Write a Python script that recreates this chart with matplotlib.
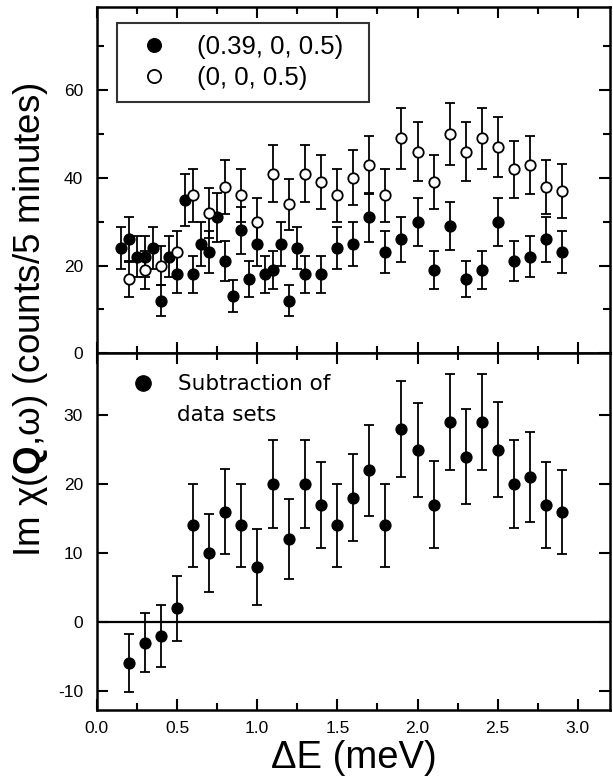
import matplotlib
matplotlib.use("Agg")
import matplotlib.pyplot as plt
from matplotlib.lines import Line2D
from matplotlib.ticker import MultipleLocator

plt.rcParams['font.family'] = ['Liberation Sans', 'DejaVu Sans']
plt.rcParams['mathtext.fontset'] = 'custom'
plt.rcParams['mathtext.rm'] = 'Liberation Sans'
plt.rcParams['mathtext.bf'] = 'Liberation Sans:bold'
plt.rcParams['axes.unicode_minus'] = False

# top panel: (0.39, 0, 0.5) filled
e_filled = [0.15, 0.2, 0.25, 0.3, 0.35, 0.4, 0.45, 0.5, 0.55, 0.6, 0.65, 0.7,
            0.75, 0.8, 0.85, 0.9, 0.95, 1.0, 1.05, 1.1, 1.15, 1.2, 1.25, 1.3,
            1.4, 1.5, 1.6, 1.7, 1.8, 1.9, 2.0, 2.1, 2.2, 2.3, 2.4, 2.5, 2.6,
            2.7, 2.8, 2.9]
c_filled = [24, 26, 22, 22, 24, 12, 22, 18, 35, 18, 25, 23, 31, 21, 13, 28, 17,
            25, 18, 19, 25, 12, 24, 18, 18, 24, 25, 31, 23, 26, 30, 19, 29, 17,
            19, 30, 21, 22, 26, 23]
err_filled = [4.9, 5.1, 4.7, 4.7, 4.9, 3.5, 4.7, 4.2, 5.9, 4.2, 5.0, 4.8, 5.6,
              4.6, 3.6, 5.3, 4.1, 5.0, 4.2, 4.4, 5.0, 3.5, 4.9, 4.2, 4.2, 4.9,
              5.0, 5.6, 4.8, 5.1, 5.5, 4.4, 5.4, 4.1, 4.4, 5.5, 4.6, 4.7, 5.1,
              4.8]

# top panel: (0, 0, 0.5) open
e_open = [0.2, 0.3, 0.4, 0.5, 0.6, 0.7, 0.8, 0.9, 1.0, 1.1, 1.2, 1.3, 1.4, 1.5,
          1.6, 1.7, 1.8, 1.9, 2.0, 2.1, 2.2, 2.3, 2.4, 2.5, 2.6, 2.7, 2.8, 2.9]
c_open = [17, 19, 20, 23, 36, 32, 38, 36, 30, 41, 34, 41, 39, 36, 40, 43, 36,
          49, 46, 39, 50, 46, 49, 47, 42, 43, 38, 37]
err_open = [4.1, 4.4, 4.5, 4.8, 6.0, 5.7, 6.2, 6.0, 5.5, 6.4, 5.8, 6.4, 6.2,
            6.0, 6.3, 6.6, 6.0, 7.0, 6.8, 6.2, 7.1, 6.8, 7.0, 6.9, 6.5, 6.6,
            6.2, 6.1]

# bottom panel: subtraction
e_sub = e_open
c_sub = [-6, -3, -2, 2, 14, 10, 16, 14, 8, 20, 12, 20, 17, 14, 18, 22, 14, 28,
         25, 17, 29, 24, 29, 25, 20, 21, 17, 16]
err_sub = [4.2, 4.3, 4.5, 4.7, 6.0, 5.7, 6.2, 6.0, 5.5, 6.4, 5.8, 6.4, 6.2, 6.0,
           6.3, 6.6, 6.0, 7.0, 6.8, 6.3, 7.0, 6.9, 7.0, 6.9, 6.4, 6.5, 6.2, 6.1]

fig = plt.figure(figsize=(6.13, 7.83), dpi=100)
ax1 = fig.add_axes([0.158, 0.549, 0.837, 0.442])
ax2 = fig.add_axes([0.158, 0.093, 0.837, 0.456])

eb = dict(ecolor='black', elinewidth=1.3, capsize=3.8, capthick=1.3,
          linestyle='none', marker='o', markersize=7.5, markeredgecolor='black',
          markeredgewidth=1.3)

ax1.errorbar(e_filled, c_filled, yerr=err_filled, markerfacecolor='black', **eb)
ax1.errorbar(e_open, c_open, yerr=err_open, markerfacecolor='white', **eb)
ax2.errorbar(e_sub, c_sub, yerr=err_sub, markerfacecolor='black', **eb)
ax2.axhline(0, color='black', lw=1.6)

ax1.set_xlim(0, 3.2)
ax2.set_xlim(0, 3.2)
ax1.set_ylim(0, 79)
ax2.set_ylim(-12.8, 39)

for ax in (ax1, ax2):
    ax.xaxis.set_major_locator(MultipleLocator(0.5))
    ax.xaxis.set_minor_locator(MultipleLocator(0.25))
    ax.tick_params(which='both', direction='in', top=True, right=True,
                   width=1.5, labelsize=12.5)
    ax.tick_params(which='major', length=8)
    ax.tick_params(which='minor', length=5)
    ax.tick_params(axis='y', pad=10)
    ax.tick_params(axis='x', pad=8)
    for s in ax.spines.values():
        s.set_linewidth(1.8)

ax1.yaxis.set_major_locator(MultipleLocator(20))
ax1.yaxis.set_minor_locator(MultipleLocator(10))
ax1.tick_params(labelbottom=False)
ax2.yaxis.set_major_locator(MultipleLocator(10))
ax2.xaxis.set_major_formatter(plt.FormatStrFormatter('%.1f'))

h_filled = Line2D([], [], ls='none', marker='o', ms=9.5, mfc='black',
                  mec='black', mew=1.3)
h_open = Line2D([], [], ls='none', marker='o', ms=9.5, mfc='white',
                mec='black', mew=1.3)
leg = ax1.legend([h_filled, h_open], ['(0.39, 0, 0.5)  ', '(0, 0, 0.5)'],
                 loc='upper left', bbox_to_anchor=(0.039, 0.954), fontsize=18.5,
                 frameon=True, fancybox=False, edgecolor='black',
                 handletextpad=0.65, borderpad=0.45, labelspacing=0.3,
                 handlelength=2.0, borderaxespad=0)
leg.get_frame().set_linewidth(1.5)

h_sub = Line2D([], [], ls='none', marker='o', ms=11, mfc='black', mec='black')
ax2.legend([h_sub], ['Subtraction of'], loc='upper left',
           bbox_to_anchor=(0.02, 0.995), frameon=False,
           prop={'family': 'DejaVu Sans', 'size': 15.5},
           handletextpad=0.9, handlelength=1.5)
ax2.text(0.157, 0.828, 'data sets', transform=ax2.transAxes,
         family='DejaVu Sans', fontsize=15.5, va='center', ha='left')

ax2.set_xlabel('ΔE (meV)', fontsize=27.5, labelpad=3)
fig.text(0.05, 1 - 320 / 783, r'Im χ($\mathbf{Q}$,ω) (counts/5 minutes)',
         rotation=90, fontsize=26.5, ha='center', va='center')

fig.savefig('out.png', dpi=100)
